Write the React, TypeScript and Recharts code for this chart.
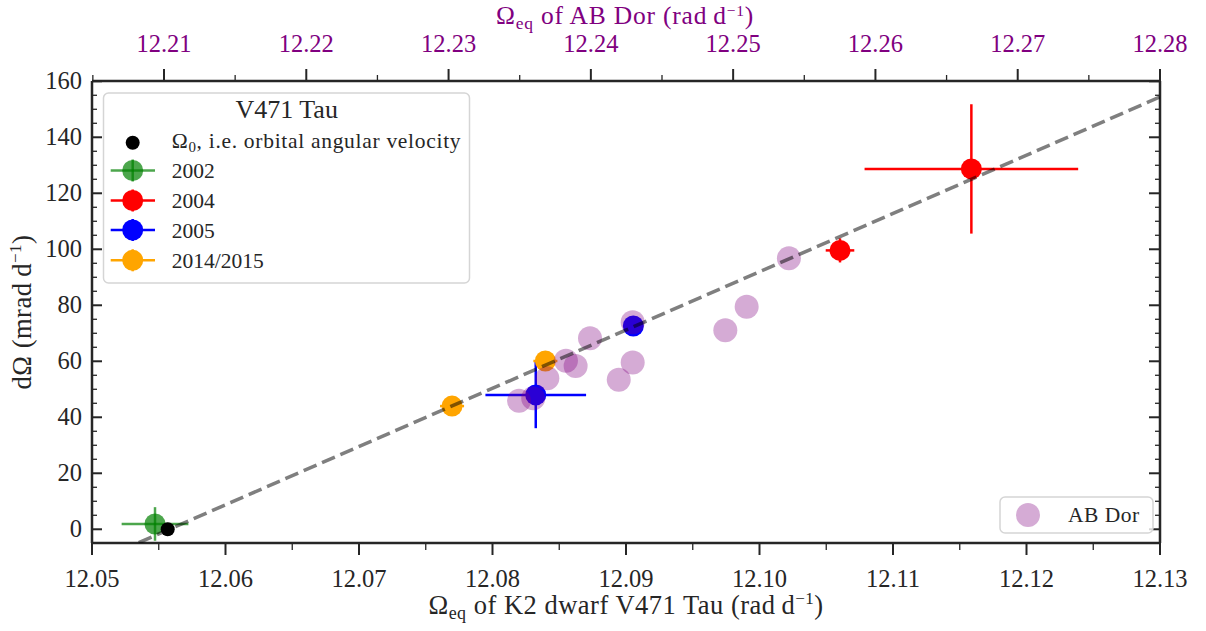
import React from "react";
import { ScatterChart, Scatter, XAxis, YAxis, ErrorBar, Legend } from "recharts";

const FONT = '"Liberation Serif", "DejaVu Serif", serif';
const INK = "#262626";
const PURPLE = "#800080";

// V471 Tau, bottom axis (rad/d) vs dOmega (mrad/d)
const omega0X = [12.05567];
const omega0Y = [0];

const v2002X = [12.05472];
const v2002Y = [1.9];
const v2002Ex = [0.0025];
const v2002Ey = [6.0];

const v2004X = [12.10603, 12.11587];
const v2004Y = [99.6, 128.7];
const v2004Ex = [0.00107, 0.008];
const v2004Ey = [4.3, 23.1];

const v2005X = [12.08324, 12.09055];
const v2005Y = [48.0, 72.6];
const v2005Ex = [0.00377, 0.0005];
const v2005Ey = [11.9, 2.0];

const v2014X = [12.07697, 12.08396];
const v2014Y = [44.0, 60.1];
const v2014Ex = [0.0009, 0.0009];
const v2014Ey = [1.0, 1.0];

// AB Dor, top axis
const abDorX = [
  12.23495, 12.23595, 12.23694, 12.23825, 12.23893, 12.23994, 12.24294, 12.24196,
  12.24294, 12.24945, 12.25095, 12.25392,
];
const abDorY = [45.9, 46.8, 53.9, 60.2, 58.3, 68.2, 73.9, 53.4, 59.6, 71.1, 79.5, 96.8];

// linear relation through Omega_0
const fitX = [12.0535, 12.13];
const fitY = [-4.8, 154.4];

const xMajor = [12.05, 12.06, 12.07, 12.08, 12.09, 12.1, 12.11, 12.12, 12.13];
const xMinor = [12.055, 12.065, 12.075, 12.085, 12.095, 12.105, 12.115, 12.125];
const topMajor = [12.21, 12.22, 12.23, 12.24, 12.25, 12.26, 12.27, 12.28];
const topMinor = [12.205, 12.215, 12.225, 12.235, 12.245, 12.255, 12.265, 12.275];
const yMajor = [0, 20, 40, 60, 80, 100, 120, 140, 160];
const yMinor = [
  5, 10, 15, 25, 30, 35, 45, 50, 55, 65, 70, 75, 85, 90, 95, 105, 110, 115, 125, 130, 135,
  145, 150, 155,
];

const pts = (xs: number[], ys: number[], exs?: number[], eys?: number[]) =>
  xs.map((x, i) => ({ x, y: ys[i], ex: exs ? exs[i] : 0, ey: eys ? eys[i] : 0 }));

const near = (v: number, arr: number[]) => arr.some((a) => Math.abs(a - v) < 1e-6);

const BottomTick = (props: any) => {
  const { x, y, payload } = props;
  const major = near(payload.value, xMajor);
  return (
    <g>
      <line x1={x} x2={x} y1={y} y2={y + (major ? 12 : 7)} stroke={INK} strokeWidth={major ? 2 : 1.3} />
      {major && (
        <text x={x} y={y + 44} textAnchor="middle" fontSize={24.5} fontFamily={FONT} fill={INK}>
          {payload.value.toFixed(2)}
        </text>
      )}
    </g>
  );
};

const TopTick = (props: any) => {
  const { x, y, payload } = props;
  const major = near(payload.value, topMajor);
  return (
    <g>
      <line x1={x} x2={x} y1={y} y2={y - (major ? 12 : 6)} stroke={INK} strokeWidth={major ? 2 : 1.3} />
      {major && (
        <text x={x} y={y - 29} textAnchor="middle" fontSize={24.5} fontFamily={FONT} fill={PURPLE}>
          {payload.value.toFixed(2)}
        </text>
      )}
    </g>
  );
};

const LeftTick = (props: any) => {
  const { x, y, payload } = props;
  const major = near(payload.value, yMajor);
  return (
    <g>
      <line x1={x} x2={x + (major ? 10 : 5)} y1={y} y2={y} stroke={INK} strokeWidth={major ? 2 : 1.3} />
      {major && (
        <text x={x - 10} y={y + 8} textAnchor="end" fontSize={24.5} fontFamily={FONT} fill={INK}>
          {payload.value}
        </text>
      )}
    </g>
  );
};

const RightTick = (props: any) => {
  const { x, y, payload } = props;
  const major = near(payload.value, yMajor);
  return (
    <line x1={x} x2={x - (major ? 11 : 5)} y1={y} y2={y} stroke={INK} strokeWidth={major ? 2 : 1.3} />
  );
};

const BottomLabel = () => (
  <text x={626} y={614} textAnchor="middle" fontSize={26.5} letterSpacing={0.5} fontFamily={FONT} fill={INK}>
    Ω<tspan fontSize={18} dy={5}>eq</tspan>
    <tspan dy={-5}> of K2 dwarf V471 Tau (rad{"\u2009"}d</tspan>
    <tspan fontSize={17} dy={-10}>−1</tspan>
    <tspan dy={10}>)</tspan>
  </text>
);

const TopLabel = () => (
  <text x={625} y={23.5} textAnchor="middle" fontSize={25.5} letterSpacing={0.8} fontFamily={FONT} fill={PURPLE}>
    Ω<tspan fontSize={17.5} dy={5}>eq</tspan>
    <tspan dy={-5}> of AB Dor (rad{"\u2009"}d</tspan>
    <tspan fontSize={15.5} dy={-8}>−1</tspan>
    <tspan dy={8}>)</tspan>
  </text>
);

const LeftLabel = () => (
  <text
    transform="translate(31,312) rotate(-90)"
    textAnchor="middle"
    fontSize={26.5}
    letterSpacing={0.5}
    fontFamily={FONT}
    fill={INK}
  >
    dΩ (mrad{"\u2009"}d<tspan fontSize={17} dy={-10}>−1</tspan>
    <tspan dy={10}>)</tspan>
  </text>
);

const dot = (r: number, fill: string, opacity = 1) => (p: any) =>
  <circle cx={p.cx} cy={p.cy} r={r} fill={fill} fillOpacity={opacity} />;

const entries = [
  { label: "2002", color: "green", op: 0.7 },
  { label: "2004", color: "red", op: 1 },
  { label: "2005", color: "blue", op: 1 },
  { label: "2014/2015", color: "orange", op: 1 },
];
const rowY = [170.5, 200.5, 230, 260.3];

const LegendBoxes = () => (
  <svg width={1206} height={631} style={{ position: "absolute", left: 0, top: 0 }}>
    <rect x={103.5} y={93} width={366} height={190} rx={5} fill="#fff" fillOpacity={0.8} stroke="#d5d5d5" strokeWidth={1.5} />
    <text x={286.7} y={118} textAnchor="middle" fontSize={26} fontFamily={FONT} fill={INK}>
      V471 Tau
    </text>
    <circle cx={132.7} cy={142.7} r={7} fill="#000" />
    <text x={171.7} y={147.5} fontSize={21.5} letterSpacing={0.7} fontFamily={FONT} fill={INK}>
      Ω<tspan fontSize={15} dy={4}>0</tspan>
      <tspan dy={-4}>, i.e. orbital angular velocity</tspan>
    </text>
    {entries.map((e, i) => (
      <g key={e.label}>
        <line x1={110.7} x2={155} y1={rowY[i]} y2={rowY[i]} stroke={e.color} strokeOpacity={e.op} strokeWidth={2.5} />
        <line x1={132.7} x2={132.7} y1={rowY[i] - 11} y2={rowY[i] + 11} stroke={e.color} strokeOpacity={e.op} strokeWidth={2.5} />
        <circle cx={132.7} cy={rowY[i]} r={10.5} fill={e.color} fillOpacity={e.op} />
        <text x={171.7} y={rowY[i] + 7.5} fontSize={21.5} fontFamily={FONT} fill={INK}>
          {e.label}
        </text>
      </g>
    ))}
    <rect x={1000} y={497} width={153} height={36} rx={5} fill="#fff" fillOpacity={0.8} stroke="#d5d5d5" strokeWidth={1.5} />
    <circle cx={1028} cy={515} r={12} fill={PURPLE} fillOpacity={0.33} />
    <text x={1068} y={522} fontSize={21.5} letterSpacing={0.5} fontFamily={FONT} fill={INK}>
      AB Dor
    </text>
  </svg>
);

export default function App() {
  return (
    <div style={{ position: "absolute", left: 0, top: 0 }}>
      <ScatterChart width={1206} height={631} margin={{ top: 0, right: 0, bottom: 0, left: 0 }}>
        <XAxis
          xAxisId="bottom"
          orientation="bottom"
          type="number"
          dataKey="x"
          domain={[12.05, 12.13]}
          allowDataOverflow
          ticks={[...xMajor, ...xMinor]}
          interval={0}
          height={88}
          tickSize={0}
          tickMargin={0}
          tick={<BottomTick />}
          axisLine={{ stroke: INK, strokeWidth: 2.5 }}
          label={<BottomLabel />}
        />
        <XAxis
          xAxisId="top"
          orientation="top"
          type="number"
          dataKey="x"
          domain={[12.20494, 12.28]}
          allowDataOverflow
          ticks={[...topMajor, ...topMinor]}
          interval={0}
          height={81}
          tickSize={0}
          tickMargin={0}
          tick={<TopTick />}
          axisLine={{ stroke: INK, strokeWidth: 2.5 }}
          label={<TopLabel />}
        />
        <YAxis
          yAxisId="left"
          type="number"
          dataKey="y"
          domain={[-4.9, 160.1]}
          allowDataOverflow
          ticks={[...yMajor, ...yMinor]}
          interval={0}
          width={92}
          tickSize={0}
          tickMargin={0}
          tick={<LeftTick />}
          axisLine={{ stroke: INK, strokeWidth: 2.5 }}
          label={<LeftLabel />}
        />
        <YAxis
          yAxisId="right"
          orientation="right"
          type="number"
          dataKey="y"
          domain={[-4.9, 160.1]}
          allowDataOverflow
          ticks={[...yMajor, ...yMinor]}
          interval={0}
          width={46}
          tickSize={0}
          tickMargin={0}
          tick={<RightTick />}
          axisLine={{ stroke: INK, strokeWidth: 2.5 }}
        />

        <Scatter xAxisId="bottom" yAxisId="left" data={pts(v2002X, v2002Y, v2002Ex, v2002Ey)} shape={dot(10.5, "green", 0.7)} isAnimationActive={false}>
          <ErrorBar dataKey="ex" direction="x" width={0} stroke="green" strokeOpacity={0.7} strokeWidth={2.5} />
          <ErrorBar dataKey="ey" direction="y" width={0} stroke="green" strokeOpacity={0.7} strokeWidth={2.5} />
        </Scatter>
        <Scatter xAxisId="bottom" yAxisId="left" data={pts(v2004X, v2004Y, v2004Ex, v2004Ey)} shape={dot(10.5, "red")} isAnimationActive={false}>
          <ErrorBar dataKey="ex" direction="x" width={0} stroke="red" strokeWidth={2.5} />
          <ErrorBar dataKey="ey" direction="y" width={0} stroke="red" strokeWidth={2.5} />
        </Scatter>
        <Scatter xAxisId="bottom" yAxisId="left" data={pts(v2005X, v2005Y, v2005Ex, v2005Ey)} shape={dot(10.5, "blue")} isAnimationActive={false}>
          <ErrorBar dataKey="ex" direction="x" width={0} stroke="blue" strokeWidth={2.5} />
          <ErrorBar dataKey="ey" direction="y" width={0} stroke="blue" strokeWidth={2.5} />
        </Scatter>
        <Scatter xAxisId="bottom" yAxisId="left" data={pts(v2014X, v2014Y, v2014Ex, v2014Ey)} shape={dot(10.5, "orange")} isAnimationActive={false}>
          <ErrorBar dataKey="ex" direction="x" width={0} stroke="orange" strokeWidth={2.5} />
          <ErrorBar dataKey="ey" direction="y" width={0} stroke="orange" strokeWidth={2.5} />
        </Scatter>
        <Scatter xAxisId="bottom" yAxisId="left" data={pts(omega0X, omega0Y)} shape={dot(7, "#000")} isAnimationActive={false} />
        <Scatter xAxisId="top" yAxisId="left" data={pts(abDorX, abDorY)} shape={dot(12, PURPLE, 0.33)} isAnimationActive={false} />
        <Scatter
          xAxisId="bottom"
          yAxisId="left"
          data={pts(fitX, fitY)}
          line={{ stroke: "#000", strokeOpacity: 0.5, strokeWidth: 3.5, strokeDasharray: "14 6" }}
          lineType="joint"
          shape={() => <g />}
          isAnimationActive={false}
        />
        <Legend
          layout="vertical"
          align="center"
          verticalAlign="middle"
          wrapperStyle={{ left: 0, top: 0, width: 1206, height: 631, pointerEvents: "none" }}
          content={() => <LegendBoxes />}
        />
      </ScatterChart>
    </div>
  );
}
